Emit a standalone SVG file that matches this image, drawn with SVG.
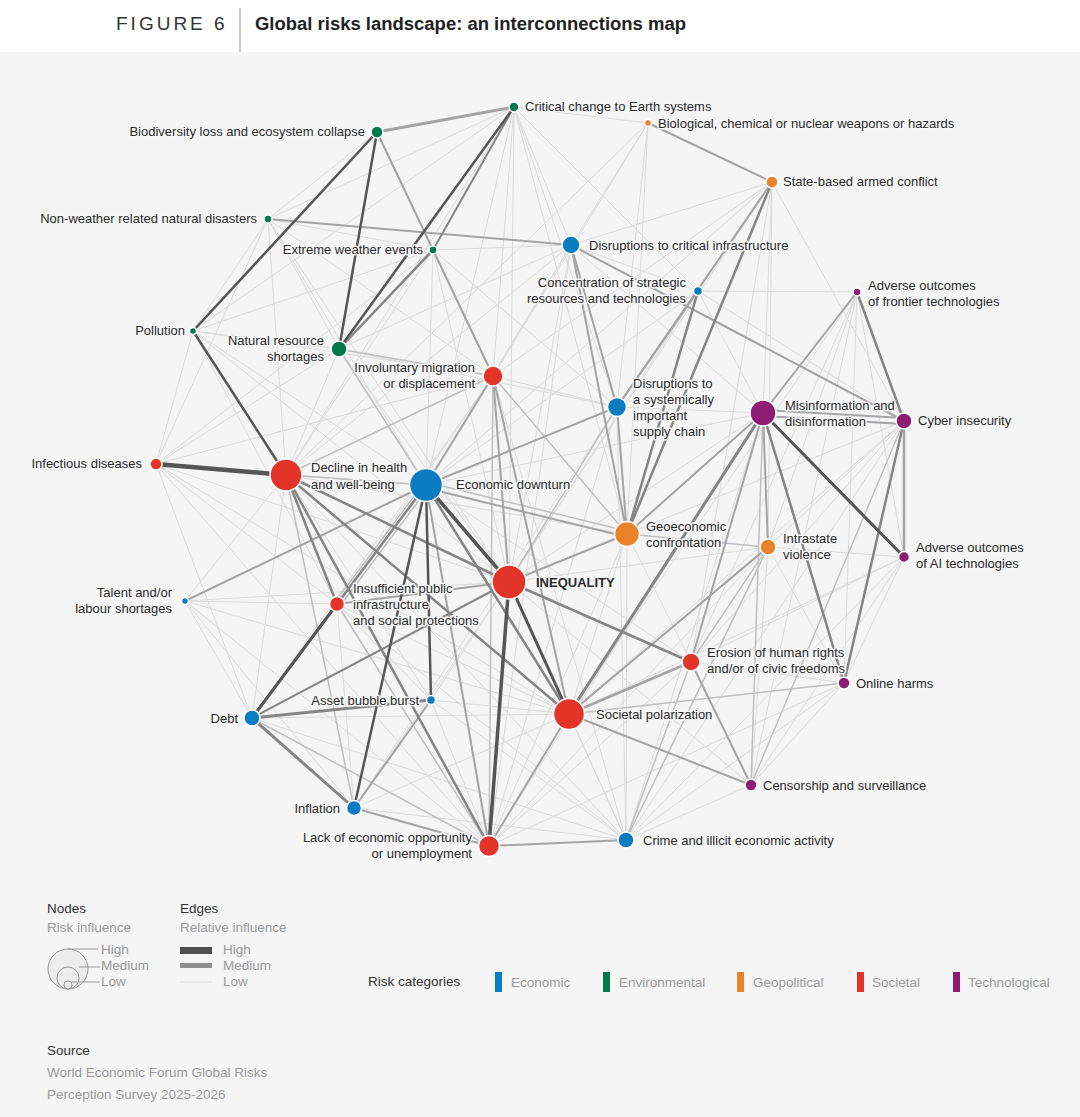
<svg xmlns="http://www.w3.org/2000/svg" width="1080" height="1117" viewBox="0 0 1080 1117">
<style>
text{font-family:"Liberation Sans",Arial,sans-serif}
.lbl{font-size:13px;fill:#2a2a2a;paint-order:stroke;stroke:#f7f7f7;stroke-width:3px;stroke-linejoin:round}
.l0{stroke:#dadada;stroke-width:1}
.l1{stroke:#bfbfbf;stroke-width:1.5}
.l2{stroke:#a4a4a4;stroke-width:2}
.l3{stroke:#858585;stroke-width:2.5}
.l4{stroke:#555;stroke-width:3}
.n{stroke:#fff;stroke-width:1.5}
.eco{fill:#0a7cc1}.env{fill:#007a4c}.geo{fill:#e8832a}.soc{fill:#e3342a}.tec{fill:#8d1e73}
.lg{font-size:13.5px;fill:#9a9a9a}
.lh{font-size:13.5px;fill:#333}
</style>
<rect width="1080" height="1117" fill="#f5f5f5"/>
<rect width="1080" height="52" fill="#fff"/>
<line x1="240" y1="8" x2="240" y2="52" stroke="#bbb" stroke-width="1.5"/>
<text x="116" y="30" font-size="19" fill="#333" letter-spacing="3">FIGURE 6</text>
<text x="255" y="30" font-size="18" font-weight="bold" fill="#222" textLength="431" lengthAdjust="spacingAndGlyphs">Global risks landscape: an interconnections map</text>

<g id="connectors" stroke-linecap="round">
<g class="l0">
<line x1="156" y1="464" x2="193" y2="331"/><line x1="156" y1="464" x2="339" y2="349"/><line x1="156" y1="464" x2="433" y2="250"/><line x1="156" y1="464" x2="426" y2="485"/><line x1="156" y1="464" x2="509" y2="582"/><line x1="156" y1="464" x2="569" y2="714"/><line x1="156" y1="464" x2="268" y2="219"/><line x1="156" y1="464" x2="489" y2="846"/><line x1="156" y1="464" x2="337" y2="604"/><line x1="156" y1="464" x2="493" y2="376"/><line x1="156" y1="464" x2="252" y2="718"/>
<line x1="193" y1="331" x2="339" y2="349"/><line x1="193" y1="331" x2="433" y2="250"/><line x1="193" y1="331" x2="514" y2="107"/><line x1="193" y1="331" x2="426" y2="485"/><line x1="193" y1="331" x2="509" y2="582"/><line x1="193" y1="331" x2="268" y2="219"/><line x1="193" y1="331" x2="337" y2="604"/><line x1="193" y1="331" x2="493" y2="376"/>
<line x1="268" y1="219" x2="433" y2="250"/><line x1="268" y1="219" x2="339" y2="349"/><line x1="268" y1="219" x2="286" y2="475"/><line x1="268" y1="219" x2="493" y2="376"/><line x1="268" y1="219" x2="509" y2="582"/><line x1="268" y1="219" x2="514" y2="107"/><line x1="268" y1="219" x2="377" y2="132"/><line x1="268" y1="219" x2="426" y2="485"/>
<line x1="433" y1="250" x2="571" y2="245"/><line x1="433" y1="250" x2="286" y2="475"/><line x1="433" y1="250" x2="426" y2="485"/><line x1="433" y1="250" x2="509" y2="582"/><line x1="433" y1="250" x2="617" y2="407"/>
<line x1="514" y1="107" x2="286" y2="475"/><line x1="514" y1="107" x2="493" y2="376"/><line x1="514" y1="107" x2="617" y2="407"/><line x1="514" y1="107" x2="571" y2="245"/><line x1="514" y1="107" x2="627" y2="534"/><line x1="514" y1="107" x2="698" y2="291"/><line x1="514" y1="107" x2="426" y2="485"/><line x1="514" y1="107" x2="509" y2="582"/><line x1="514" y1="107" x2="648" y2="123"/>
<line x1="648" y1="123" x2="571" y2="245"/><line x1="648" y1="123" x2="493" y2="376"/><line x1="648" y1="123" x2="617" y2="407"/><line x1="648" y1="123" x2="627" y2="534"/><line x1="648" y1="123" x2="286" y2="475"/>
<line x1="772" y1="182" x2="768" y2="547"/><line x1="772" y1="182" x2="698" y2="291"/><line x1="772" y1="182" x2="571" y2="245"/><line x1="772" y1="182" x2="763" y2="413"/><line x1="772" y1="182" x2="493" y2="376"/><line x1="772" y1="182" x2="691" y2="662"/><line x1="772" y1="182" x2="509" y2="582"/><line x1="772" y1="182" x2="426" y2="485"/><line x1="772" y1="182" x2="904" y2="421"/>
<line x1="571" y1="245" x2="426" y2="485"/><line x1="571" y1="245" x2="509" y2="582"/><line x1="571" y1="245" x2="339" y2="349"/><line x1="571" y1="245" x2="493" y2="376"/><line x1="571" y1="245" x2="763" y2="413"/><line x1="571" y1="245" x2="489" y2="846"/><line x1="571" y1="245" x2="286" y2="475"/>
<line x1="698" y1="291" x2="763" y2="413"/><line x1="698" y1="291" x2="509" y2="582"/><line x1="698" y1="291" x2="426" y2="485"/><line x1="698" y1="291" x2="904" y2="421"/><line x1="698" y1="291" x2="857" y2="292"/><line x1="698" y1="291" x2="571" y2="245"/>
<line x1="857" y1="292" x2="904" y2="557"/><line x1="857" y1="292" x2="844" y2="683"/><line x1="857" y1="292" x2="569" y2="714"/><line x1="857" y1="292" x2="691" y2="662"/><line x1="857" y1="292" x2="751" y2="785"/><line x1="857" y1="292" x2="768" y2="547"/>
<line x1="904" y1="421" x2="569" y2="714"/><line x1="904" y1="421" x2="768" y2="547"/><line x1="904" y1="421" x2="691" y2="662"/><line x1="904" y1="421" x2="627" y2="534"/><line x1="904" y1="421" x2="626" y2="840"/>
<line x1="763" y1="413" x2="626" y2="840"/><line x1="763" y1="413" x2="509" y2="582"/><line x1="763" y1="413" x2="426" y2="485"/><line x1="763" y1="413" x2="617" y2="407"/><line x1="763" y1="413" x2="489" y2="846"/>
<line x1="768" y1="547" x2="844" y2="683"/><line x1="768" y1="547" x2="626" y2="840"/><line x1="768" y1="547" x2="509" y2="582"/><line x1="768" y1="547" x2="904" y2="557"/><line x1="768" y1="547" x2="751" y2="785"/><line x1="768" y1="547" x2="489" y2="846"/>
<line x1="904" y1="557" x2="844" y2="683"/><line x1="904" y1="557" x2="751" y2="785"/><line x1="904" y1="557" x2="569" y2="714"/><line x1="904" y1="557" x2="691" y2="662"/><line x1="904" y1="557" x2="626" y2="840"/>
<line x1="844" y1="683" x2="691" y2="662"/><line x1="844" y1="683" x2="751" y2="785"/><line x1="844" y1="683" x2="626" y2="840"/><line x1="844" y1="683" x2="489" y2="846"/>
<line x1="751" y1="785" x2="626" y2="840"/><line x1="751" y1="785" x2="509" y2="582"/>
<line x1="691" y1="662" x2="489" y2="846"/><line x1="691" y1="662" x2="426" y2="485"/><line x1="691" y1="662" x2="627" y2="534"/>
<line x1="627" y1="534" x2="569" y2="714"/><line x1="627" y1="534" x2="489" y2="846"/><line x1="627" y1="534" x2="626" y2="840"/><line x1="627" y1="534" x2="286" y2="475"/>
<line x1="569" y1="714" x2="626" y2="840"/><line x1="569" y1="714" x2="252" y2="718"/><line x1="569" y1="714" x2="337" y2="604"/><line x1="569" y1="714" x2="354" y2="808"/><line x1="569" y1="714" x2="185" y2="601"/><line x1="569" y1="714" x2="431" y2="700"/>
<line x1="509" y1="582" x2="626" y2="840"/><line x1="509" y1="582" x2="185" y2="601"/><line x1="509" y1="582" x2="431" y2="700"/><line x1="509" y1="582" x2="354" y2="808"/>
<line x1="431" y1="700" x2="489" y2="846"/><line x1="431" y1="700" x2="337" y2="604"/><line x1="431" y1="700" x2="626" y2="840"/>
<line x1="185" y1="601" x2="337" y2="604"/><line x1="185" y1="601" x2="286" y2="475"/><line x1="185" y1="601" x2="489" y2="846"/><line x1="185" y1="601" x2="252" y2="718"/><line x1="185" y1="601" x2="354" y2="808"/>
<line x1="286" y1="475" x2="339" y2="349"/><line x1="286" y1="475" x2="431" y2="700"/><line x1="286" y1="475" x2="252" y2="718"/><line x1="286" y1="475" x2="626" y2="840"/>
<line x1="337" y1="604" x2="354" y2="808"/><line x1="337" y1="604" x2="626" y2="840"/><line x1="252" y1="718" x2="626" y2="840"/><line x1="354" y1="808" x2="626" y2="840"/>
<line x1="493" y1="376" x2="617" y2="407"/><line x1="493" y1="376" x2="337" y2="604"/><line x1="493" y1="376" x2="252" y2="718"/><line x1="493" y1="376" x2="626" y2="840"/>
<line x1="339" y1="349" x2="426" y2="485"/><line x1="339" y1="349" x2="509" y2="582"/><line x1="339" y1="349" x2="617" y2="407"/>
<line x1="617" y1="407" x2="489" y2="846"/><line x1="617" y1="407" x2="354" y2="808"/><line x1="617" y1="407" x2="626" y2="840"/>
</g>
<g class="l1">
<line x1="763" y1="413" x2="751" y2="785"/><line x1="904" y1="421" x2="751" y2="785"/><line x1="569" y1="714" x2="844" y2="683"/><line x1="493" y1="376" x2="339" y2="349"/><line x1="493" y1="376" x2="433" y2="250"/><line x1="493" y1="376" x2="489" y2="846"/><line x1="493" y1="376" x2="627" y2="534"/><line x1="489" y1="846" x2="252" y2="718"/><line x1="489" y1="846" x2="337" y2="604"/><line x1="617" y1="407" x2="509" y2="582"/><line x1="768" y1="547" x2="691" y2="662"/><line x1="286" y1="475" x2="354" y2="808"/><line x1="424" y1="483" x2="335" y2="602"/><line x1="429" y1="487" x2="340" y2="606"/><line x1="426" y1="485" x2="286" y2="475"/><line x1="426" y1="485" x2="339" y2="349"/><line x1="286" y1="475" x2="493" y2="376"/><line x1="626" y1="840" x2="691" y2="662"/><line x1="626" y1="840" x2="768" y2="547"/><line x1="627" y1="534" x2="768" y2="547"/><line x1="377" y1="132" x2="433" y2="250"/><line x1="426" y1="482" x2="627" y2="531"/>
</g>
<g class="l2">
<line x1="514" y1="107" x2="377" y2="132" stroke-width="3"/><line x1="377" y1="132" x2="493" y2="376"/><line x1="268" y1="219" x2="571" y2="245"/><line x1="648" y1="123" x2="772" y2="182"/><line x1="772" y1="182" x2="617" y2="407"/><line x1="571" y1="245" x2="617" y2="407"/><line x1="571" y1="245" x2="627" y2="534"/><line x1="571" y1="245" x2="904" y2="421"/><line x1="698" y1="291" x2="617" y2="407"/><line x1="857" y1="292" x2="763" y2="413"/><line x1="763" y1="410" x2="904" y2="418"/><line x1="763" y1="416" x2="904" y2="424"/><line x1="763" y1="413" x2="768" y2="547"/><line x1="763" y1="413" x2="691" y2="662"/><line x1="763" y1="413" x2="627" y2="534"/><line x1="904" y1="421" x2="904" y2="557" stroke-width="2.5"/><line x1="691" y1="662" x2="569" y2="714" stroke-width="2.5"/><line x1="691" y1="662" x2="751" y2="785"/><line x1="569" y1="714" x2="751" y2="785"/><line x1="569" y1="714" x2="489" y2="846"/><line x1="569" y1="714" x2="493" y2="376"/><line x1="509" y1="582" x2="493" y2="376"/><line x1="509" y1="582" x2="337" y2="604"/><line x1="509" y1="582" x2="627" y2="534"/><line x1="426" y1="485" x2="185" y2="601"/><line x1="426" y1="488" x2="627" y2="537"/><line x1="426" y1="485" x2="493" y2="376"/><line x1="426" y1="485" x2="617" y2="407"/><line x1="426" y1="485" x2="489" y2="846"/><line x1="489" y1="846" x2="626" y2="840"/><line x1="489" y1="846" x2="354" y2="808"/><line x1="354" y1="808" x2="431" y2="700"/><line x1="617" y1="407" x2="627" y2="534"/><line x1="768" y1="547" x2="569" y2="714"/>
</g>
<g class="l3">
<line x1="426" y1="485" x2="569" y2="714"/><line x1="763" y1="413" x2="569" y2="714" stroke-width="3"/><line x1="252" y1="718" x2="431" y2="700" stroke-width="3"/><line x1="252" y1="718" x2="354" y2="808" stroke-width="3"/><line x1="252" y1="718" x2="426" y2="485"/><line x1="252" y1="718" x2="509" y2="582" stroke-width="2"/><line x1="763" y1="413" x2="844" y2="683"/><line x1="286" y1="475" x2="509" y2="582"/><line x1="286" y1="475" x2="569" y2="714"/><line x1="286" y1="475" x2="489" y2="846"/><line x1="286" y1="475" x2="337" y2="604"/><line x1="691" y1="662" x2="509" y2="582"/><line x1="904" y1="421" x2="844" y2="683"/><line x1="857" y1="292" x2="904" y2="421"/><line x1="772" y1="182" x2="627" y2="534"/><line x1="698" y1="291" x2="627" y2="534"/><line x1="433" y1="250" x2="339" y2="349"/><line x1="514" y1="107" x2="433" y2="250" stroke-width="2"/>
</g>
<g class="l4">
<line x1="156" y1="464" x2="286" y2="475" stroke-width="4.5"/><line x1="193" y1="331" x2="286" y2="475" stroke-width="2.5"/><line x1="193" y1="331" x2="377" y2="132" stroke-width="2.5"/><line x1="377" y1="132" x2="339" y2="349" stroke-width="2.5"/><line x1="514" y1="107" x2="339" y2="349" stroke-width="2.5"/><line x1="426" y1="485" x2="509" y2="582" stroke-width="3.5"/><line x1="509" y1="582" x2="489" y2="846" stroke-width="3.5"/><line x1="426" y1="485" x2="354" y2="808" stroke-width="2.5"/><line x1="252" y1="718" x2="337" y2="604"/><line x1="763" y1="413" x2="904" y2="557"/><line x1="509" y1="582" x2="569" y2="714"/><line x1="426" y1="485" x2="431" y2="700" stroke-width="2.5"/>
</g>
</g>

<g id="nodes">
<g id="n-critical-change"><circle class="n env" cx="514" cy="107" r="5"/><text class="lbl" x="525" y="111">Critical change to Earth systems</text></g>
<g id="n-bio-weapons"><circle class="n geo" cx="648" cy="123" r="3.5"/><text class="lbl" x="658" y="128">Biological, chemical or nuclear weapons or hazards</text></g>
<g id="n-biodiversity"><circle class="n env" cx="377" cy="132" r="6"/><text class="lbl" x="365" y="136" text-anchor="end">Biodiversity loss and ecosystem collapse</text></g>
<g id="n-state-conflict"><circle class="n geo" cx="772" cy="182" r="6"/><text class="lbl" x="783" y="186">State-based armed conflict</text></g>
<g id="n-non-weather"><circle class="n env" cx="268" cy="219" r="4"/><text class="lbl" x="257" y="223" text-anchor="end">Non-weather related natural disasters</text></g>
<g id="n-extreme-weather"><circle class="n env" cx="433" cy="250" r="4"/><text class="lbl" x="423" y="254" text-anchor="end">Extreme weather events</text></g>
<g id="n-critical-infra"><circle class="n eco" cx="571" cy="245" r="9"/><text class="lbl" x="589" y="250">Disruptions to critical infrastructure</text></g>
<g id="n-concentration"><circle class="n eco" cx="698" cy="291" r="4.5"/><text class="lbl" x="686" y="287" text-anchor="end">Concentration of strategic</text><text class="lbl" x="686" y="303" text-anchor="end">resources and technologies</text></g>
<g id="n-frontier-tech"><circle class="n tec" cx="857" cy="292" r="4"/><text class="lbl" x="868" y="290">Adverse outcomes</text><text class="lbl" x="868" y="306">of frontier technologies</text></g>
<g id="n-pollution"><circle class="n env" cx="193" cy="331" r="3.5"/><text class="lbl" x="185" y="335" text-anchor="end">Pollution</text></g>
<g id="n-natural-resource"><circle class="n env" cx="339" cy="349" r="8"/><text class="lbl" x="324" y="345" text-anchor="end">Natural resource</text><text class="lbl" x="324" y="361" text-anchor="end">shortages</text></g>
<g id="n-migration"><circle class="n soc" cx="493" cy="376" r="10"/><text class="lbl" x="475" y="372" text-anchor="end">Involuntary migration</text><text class="lbl" x="475" y="388" text-anchor="end">or displacement</text></g>
<g id="n-supply-chain"><circle class="n eco" cx="617" cy="407" r="9.5"/><text class="lbl" x="633" y="388">Disruptions to</text><text class="lbl" x="633" y="404">a systemically</text><text class="lbl" x="633" y="420">important</text><text class="lbl" x="633" y="436">supply chain</text></g>
<g id="n-misinformation"><circle class="n tec" cx="763" cy="413" r="13"/><text class="lbl" x="785" y="410">Misinformation and</text><text class="lbl" x="785" y="426">disinformation</text></g>
<g id="n-cyber"><circle class="n tec" cx="904" cy="421" r="8"/><text class="lbl" x="918" y="425">Cyber insecurity</text></g>
<g id="n-infectious"><circle class="n soc" cx="156" cy="464" r="6"/><text class="lbl" x="142" y="468" text-anchor="end">Infectious diseases</text></g>
<g id="n-health"><circle class="n soc" cx="286" cy="475" r="16"/><text class="lbl" x="311" y="472">Decline in health</text><text class="lbl" x="311" y="489">and well-being</text></g>
<g id="n-downturn"><circle class="n eco" cx="426" cy="485" r="16.5"/><text class="lbl" x="456" y="489">Economic downturn</text></g>
<g id="n-geoeconomic"><circle class="n geo" cx="627" cy="534" r="12.5"/><text class="lbl" x="646" y="531">Geoeconomic</text><text class="lbl" x="646" y="547">confrontation</text></g>
<g id="n-intrastate"><circle class="n geo" cx="768" cy="547" r="8"/><text class="lbl" x="783" y="543">Intrastate</text><text class="lbl" x="783" y="559">violence</text></g>
<g id="n-ai"><circle class="n tec" cx="904" cy="557" r="5.5"/><text class="lbl" x="916" y="552">Adverse outcomes</text><text class="lbl" x="916" y="568">of AI technologies</text></g>
<g id="n-inequality"><circle class="n soc" cx="509" cy="582" r="17"/><text class="lbl" x="536" y="587" font-weight="bold" fill="#111">INEQUALITY</text></g>
<g id="n-talent"><circle class="n eco" cx="185" cy="601" r="3.5"/><text class="lbl" x="172" y="597" text-anchor="end">Talent and/or</text><text class="lbl" x="172" y="613" text-anchor="end">labour shortages</text></g>
<g id="n-public-infra"><circle class="n soc" cx="337" cy="604" r="7.5"/><text class="lbl" x="353" y="593">Insufficient public</text><text class="lbl" x="353" y="609">infrastructure</text><text class="lbl" x="353" y="625">and social protections</text></g>
<g id="n-human-rights"><circle class="n soc" cx="691" cy="662" r="9"/><text class="lbl" x="707" y="657">Erosion of human rights</text><text class="lbl" x="707" y="673">and/or of civic freedoms</text></g>
<g id="n-online-harms"><circle class="n tec" cx="844" cy="683" r="6"/><text class="lbl" x="856" y="688">Online harms</text></g>
<g id="n-asset-bubble"><circle class="n eco" cx="431" cy="700" r="4.5"/><text class="lbl" x="419" y="705" text-anchor="end">Asset bubble burst</text></g>
<g id="n-debt"><circle class="n eco" cx="252" cy="718" r="8"/><text class="lbl" x="238" y="723" text-anchor="end">Debt</text></g>
<g id="n-polarization"><circle class="n soc" cx="569" cy="714" r="15.5"/><text class="lbl" x="596" y="719">Societal polarization</text></g>
<g id="n-censorship"><circle class="n tec" cx="751" cy="785" r="6"/><text class="lbl" x="763" y="790">Censorship and surveillance</text></g>
<g id="n-inflation"><circle class="n eco" cx="354" cy="808" r="7.5"/><text class="lbl" x="340" y="813" text-anchor="end">Inflation</text></g>
<g id="n-unemployment"><circle class="n soc" cx="489" cy="846" r="10.5"/><text class="lbl" x="472" y="842" text-anchor="end">Lack of economic opportunity</text><text class="lbl" x="472" y="858" text-anchor="end">or unemployment</text></g>
<g id="n-crime"><circle class="n eco" cx="626" cy="840" r="8"/><text class="lbl" x="643" y="845">Crime and illicit economic activity</text></g>
</g>

<g id="legend">
<text class="lh" x="47" y="913">Nodes</text>
<text class="lg" x="47" y="932">Risk influence</text>
<circle cx="68" cy="969" r="20" fill="#ececec" stroke="#999" stroke-width="1"/>
<circle cx="68" cy="978" r="11" fill="#ececec" stroke="#999" stroke-width="1"/>
<circle cx="68" cy="985" r="4" fill="#ececec" stroke="#999" stroke-width="1"/>
<g stroke="#999" stroke-width="1"><line x1="68" y1="949" x2="98" y2="949"/><line x1="79" y1="967" x2="100" y2="967"/><line x1="72" y1="982" x2="100" y2="982"/></g>
<text class="lg" x="101" y="954">High</text>
<text class="lg" x="101" y="970">Medium</text>
<text class="lg" x="101" y="986">Low</text>
<text class="lh" x="180" y="913">Edges</text>
<text class="lg" x="180" y="932">Relative influence</text>
<rect x="180" y="947" width="32" height="7" fill="#4f4f4f"/>
<rect x="180" y="963" width="32" height="5" fill="#8f8f8f"/>
<line x1="180" y1="982" x2="212" y2="982" stroke="#dcdcdc" stroke-width="1"/>
<text class="lg" x="223" y="954">High</text>
<text class="lg" x="223" y="970">Medium</text>
<text class="lg" x="223" y="986">Low</text>
<text class="lh" x="368" y="986">Risk categories</text>
<rect x="495" y="972" width="7" height="20" fill="#0a7cc1"/><text class="lg" x="511" y="987">Economic</text>
<rect x="603" y="972" width="7" height="20" fill="#007a4c"/><text class="lg" x="619" y="987">Environmental</text>
<rect x="737" y="972" width="7" height="20" fill="#e8832a"/><text class="lg" x="753" y="987">Geopolitical</text>
<rect x="857" y="972" width="7" height="20" fill="#e3342a"/><text class="lg" x="872" y="987">Societal</text>
<rect x="953" y="972" width="7" height="20" fill="#8d1e73"/><text class="lg" x="968" y="987">Technological</text>
</g>
<g id="source">
<text class="lh" x="47" y="1055">Source</text>
<text class="lg" x="47" y="1077">World Economic Forum Global Risks</text>
<text class="lg" x="47" y="1099">Perception Survey 2025-2026</text>
</g>
</svg>
